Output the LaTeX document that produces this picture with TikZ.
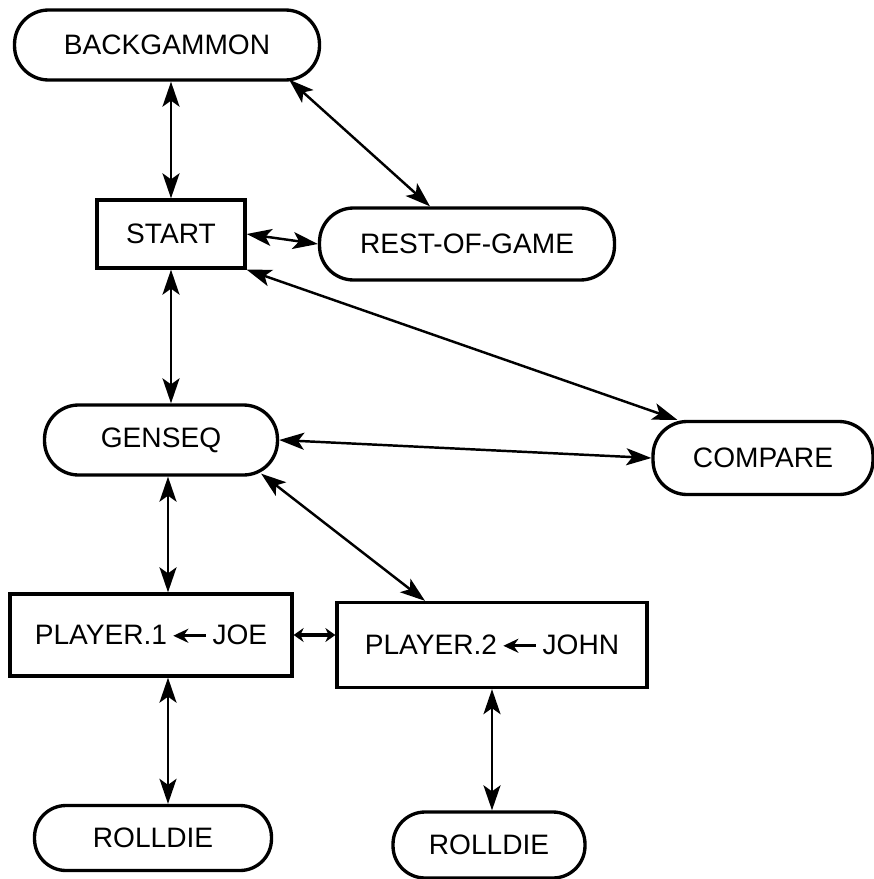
\documentclass[tikz,border=0pt]{standalone}
\usepackage{fontspec}
\setmainfont{Liberation Sans}
\usepackage{tikz}
\usetikzlibrary{arrows.meta, positioning, calc}
\tikzset{
  proc/.style={rectangle, draw, line width=1.9pt, rounded corners=0.68cm,
               minimum height=1.4cm, inner xsep=8pt,
               font=\fontsize{16}{18}\selectfont},
  stmt/.style={rectangle, draw, line width=1.9pt,
               minimum height=1.4cm, inner xsep=8pt,
               font=\fontsize{16}{18}\selectfont},
  link/.style={{Stealth[length=5mm,width=3.4mm,inset=1.2mm]}-{Stealth[length=5mm,width=3.4mm,inset=1.2mm]},
               line width=1.4pt},
  shortlink/.style={{Stealth[length=2mm,width=2.8mm]}-{Stealth[length=2mm,width=2.8mm]},
               line width=2pt},
}
\newcommand{\assign}{\,\tikz[baseline=-0.6ex]\draw[{Stealth[length=3mm,width=2.8mm]}-, line width=1.8pt] (0,0) -- (0.66cm,0);\,}

\begin{document}
\begin{tikzpicture}[x=0.02cm, y=-0.02cm]
  \useasboundingbox (0,0) rectangle (874,879);

  \node[proc, minimum width=6.1cm] (backgammon) at (167,45) {BACKGAMMON};
  \node[stmt, minimum width=2.96cm, minimum height=1.36cm] (start) at (171,234) {START};
  \node[proc, minimum width=5.9cm, minimum height=1.44cm] (rest) at (467,244) {REST-OF-GAME};
  \node[proc, minimum width=4.66cm] (genseq) at (161,440) {GENSEQ};
  \node[proc, minimum width=4.4cm, minimum height=1.46cm] (compare) at (763,458) {COMPARE};

  \node[stmt, minimum width=5.64cm, minimum height=1.64cm] (player1) at (151,635) {PLAYER.1\assign JOE};
  \node[stmt, minimum width=6.2cm, minimum height=1.7cm] (player2) at (492,645) {PLAYER.2\assign JOHN};

  \node[proc, minimum width=4.74cm, minimum height=1.3cm, rounded corners=0.63cm] (roll1) at (153,838) {ROLLDIE};
  \node[proc, minimum width=3.84cm, minimum height=1.32cm, rounded corners=0.64cm] (roll2) at (489,845) {ROLLDIE};

  % free ends of the links
  \coordinate (bgout) at ($(backgammon.south east)+(-32,-2)$);
  \coordinate (restin) at (rest.north -| 430,0);
  \coordinate (cmpin) at ($(compare.north west)+(26,0)$);
  \coordinate (gsslant) at ($(genseq.south east)+(-18,-3)$);
  \coordinate (p2in) at (player2.north -| 425,0);
  \coordinate (gsout) at (genseq.south -| 168,0);
  \coordinate (p1in) at (player1.north -| 168,0);
  \coordinate (p1out) at (player1.south -| 168,0);
  \coordinate (r1in) at (roll1.north -| 168,0);

  % calls between the modules
  \draw[link] (backgammon.south -| start.north) -- (start.north);
  \draw[link] (bgout) -- (restin);
  \draw[link] (start.east) -- (rest.west);
  \draw[link] (start.south east) -- (cmpin);
  \draw[link] (start.south) -- (genseq.north -| start.south);
  \draw[link] (genseq.east) -- (compare.west);
  \draw[link] (gsslant) -- (p2in);
  \draw[link] (gsout) -- (p1in);
  \draw[shortlink] (player1.east) -- (player2.west |- player1.east);
  \draw[link] (p1out) -- (r1in);
  \draw[link] (player2.south) -- (roll2.north -| player2.south);

\end{tikzpicture}
\end{document}
